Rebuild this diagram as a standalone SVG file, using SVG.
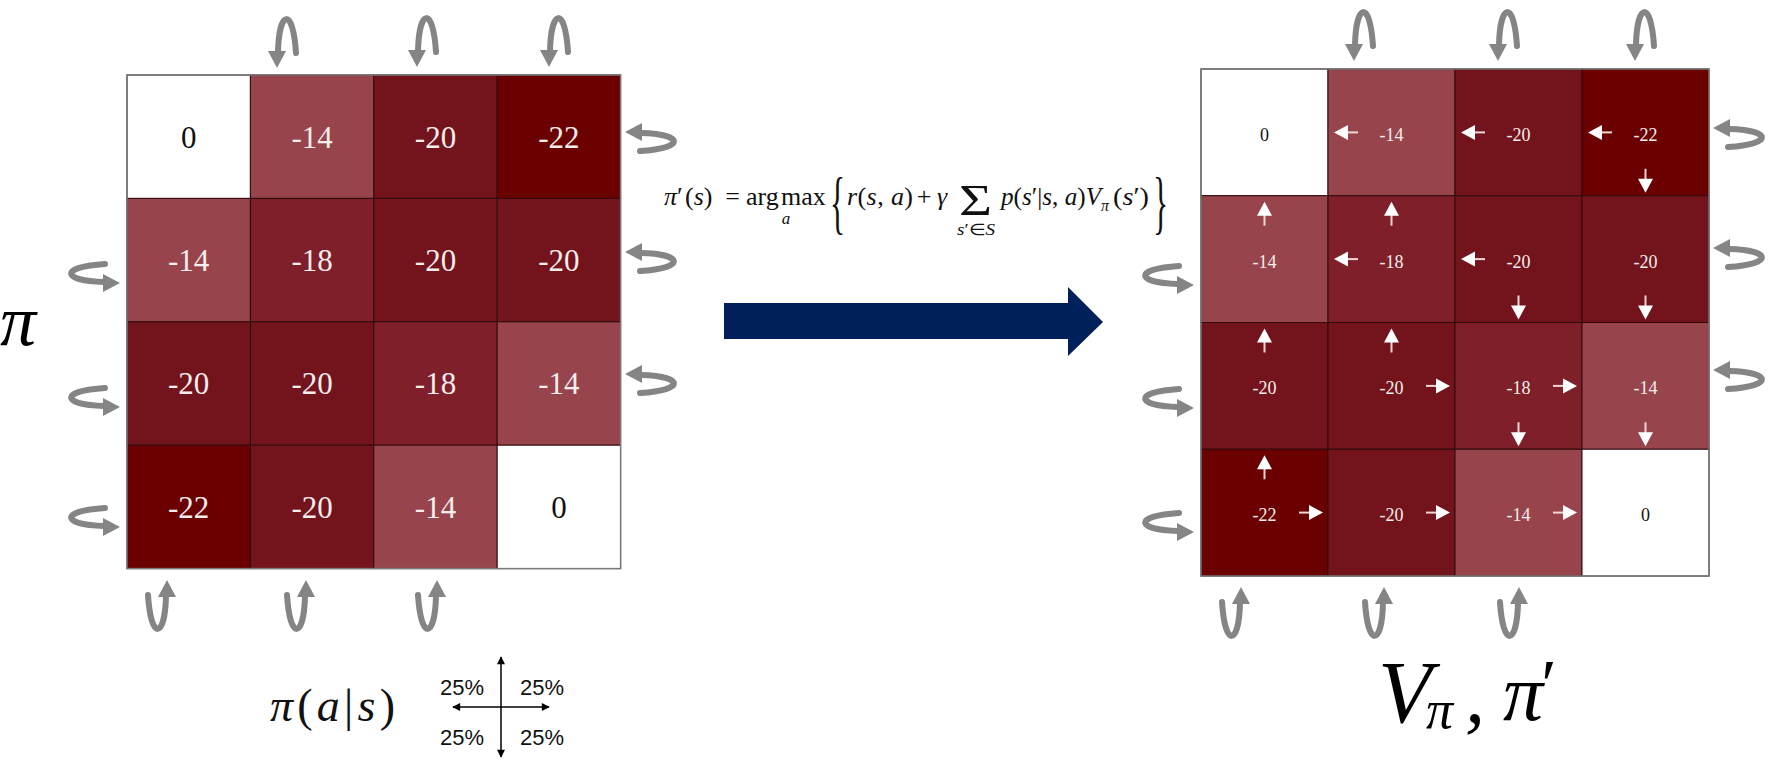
<svg xmlns="http://www.w3.org/2000/svg" xmlns:xlink="http://www.w3.org/1999/xlink" width="1782" height="772" viewBox="0 0 1782 772">
<style>
.cell{stroke:#2e0a0d;stroke-width:1}
.w{fill:#ffffff}.c14{fill:#97444c}.c18{fill:#7e1f29}.c20{fill:#73141c}.c22{fill:#6b0000}
.frame{fill:none;stroke:#7a7a7a;stroke-width:1.5}
.tl{font-family:"Liberation Serif",serif;font-size:31px;text-anchor:middle;fill:#f6eded}
.tr{font-family:"Liberation Serif",serif;font-size:18px;text-anchor:middle;fill:#f6eded}
.dk{fill:#111111}
.m{font-family:"Liberation Serif",serif;fill:#111}
.i{font-style:italic}
.pct{font-family:"Liberation Sans",Arial,sans-serif;font-size:22px;fill:#111}
.lbl{font-family:"Liberation Serif",serif;font-style:italic;fill:#000}
</style>
<defs>
<g id="loop">
<path d="M1,-16 C2,-58 16,-62 19,-15" fill="none" stroke="#858585" stroke-width="6" stroke-linecap="round"/>
<polygon points="0,0 -9,-17 9,-17" fill="#858585"/>
</g>
<g id="pa">
<line x1="0" y1="13" x2="0" y2="24" stroke="#f0d6d6" stroke-width="2"/>
<polygon points="0,0 -7.5,14 7.5,14" fill="#ffffff"/>
</g>
<marker id="blk" viewBox="0 0 10 10" refX="9" refY="5" markerWidth="10" markerHeight="8" markerUnits="userSpaceOnUse" orient="auto-start-reverse">
<path d="M0,0 L10,5 L0,10 z" fill="#000"/>
</marker>
</defs>
<rect width="1782" height="772" fill="#ffffff"/>

<!-- Left grid -->
<g id="left-grid">
<g id="L00"><rect class="cell w" x="127" y="75" width="123.4" height="123.4"/><text class="tl dk" x="188.7" y="147.5">0</text></g>
<g id="L01"><rect class="cell c14" x="250.4" y="75" width="123.4" height="123.4"/><text class="tl" x="312.1" y="147.5">-14</text></g>
<g id="L02"><rect class="cell c20" x="373.8" y="75" width="123.4" height="123.4"/><text class="tl" x="435.5" y="147.5">-20</text></g>
<g id="L03"><rect class="cell c22" x="497.2" y="75" width="123.4" height="123.4"/><text class="tl" x="558.9" y="147.5">-22</text></g>
<g id="L10"><rect class="cell c14" x="127" y="198.4" width="123.4" height="123.4"/><text class="tl" x="188.7" y="270.9">-14</text></g>
<g id="L11"><rect class="cell c18" x="250.4" y="198.4" width="123.4" height="123.4"/><text class="tl" x="312.1" y="270.9">-18</text></g>
<g id="L12"><rect class="cell c20" x="373.8" y="198.4" width="123.4" height="123.4"/><text class="tl" x="435.5" y="270.9">-20</text></g>
<g id="L13"><rect class="cell c20" x="497.2" y="198.4" width="123.4" height="123.4"/><text class="tl" x="558.9" y="270.9">-20</text></g>
<g id="L20"><rect class="cell c20" x="127" y="321.8" width="123.4" height="123.4"/><text class="tl" x="188.7" y="394.3">-20</text></g>
<g id="L21"><rect class="cell c20" x="250.4" y="321.8" width="123.4" height="123.4"/><text class="tl" x="312.1" y="394.3">-20</text></g>
<g id="L22"><rect class="cell c18" x="373.8" y="321.8" width="123.4" height="123.4"/><text class="tl" x="435.5" y="394.3">-18</text></g>
<g id="L23"><rect class="cell c14" x="497.2" y="321.8" width="123.4" height="123.4"/><text class="tl" x="558.9" y="394.3">-14</text></g>
<g id="L30"><rect class="cell c22" x="127" y="445.2" width="123.4" height="123.4"/><text class="tl" x="188.7" y="517.7">-22</text></g>
<g id="L31"><rect class="cell c20" x="250.4" y="445.2" width="123.4" height="123.4"/><text class="tl" x="312.1" y="517.7">-20</text></g>
<g id="L32"><rect class="cell c14" x="373.8" y="445.2" width="123.4" height="123.4"/><text class="tl" x="435.5" y="517.7">-14</text></g>
<g id="L33"><rect class="cell w" x="497.2" y="445.2" width="123.4" height="123.4"/><text class="tl dk" x="558.9" y="517.7">0</text></g>
<rect class="frame" x="127" y="75" width="493.6" height="493.6"/>
</g>

<!-- Right grid -->
<g id="right-grid">
<g id="R00"><rect class="cell w" x="1201" y="69" width="127" height="126.75"/><text class="tr dk" x="1264.5" y="140.9">0</text></g>
<g id="R01"><rect class="cell c14" x="1328" y="69" width="127" height="126.75"/><text class="tr" x="1391.5" y="140.9">-14</text>
<use xlink:href="#pa" transform="translate(1334,132.4) rotate(-90)"/></g>
<g id="R02"><rect class="cell c20" x="1455" y="69" width="127" height="126.75"/><text class="tr" x="1518.5" y="140.9">-20</text>
<use xlink:href="#pa" transform="translate(1461,132.4) rotate(-90)"/></g>
<g id="R03"><rect class="cell c22" x="1582" y="69" width="127" height="126.75"/><text class="tr" x="1645.5" y="140.9">-22</text>
<use xlink:href="#pa" transform="translate(1588,132.4) rotate(-90)"/>
<use xlink:href="#pa" transform="translate(1645.5,192.75) rotate(180)"/></g>
<g id="R10"><rect class="cell c14" x="1201" y="195.75" width="127" height="126.75"/><text class="tr" x="1264.5" y="267.6">-14</text>
<use xlink:href="#pa" transform="translate(1264.5,201.75)"/></g>
<g id="R11"><rect class="cell c18" x="1328" y="195.75" width="127" height="126.75"/><text class="tr" x="1391.5" y="267.6">-18</text>
<use xlink:href="#pa" transform="translate(1391.5,201.75)"/>
<use xlink:href="#pa" transform="translate(1334,259.1) rotate(-90)"/></g>
<g id="R12"><rect class="cell c20" x="1455" y="195.75" width="127" height="126.75"/><text class="tr" x="1518.5" y="267.6">-20</text>
<use xlink:href="#pa" transform="translate(1461,259.1) rotate(-90)"/>
<use xlink:href="#pa" transform="translate(1518.5,319.5) rotate(180)"/></g>
<g id="R13"><rect class="cell c20" x="1582" y="195.75" width="127" height="126.75"/><text class="tr" x="1645.5" y="267.6">-20</text>
<use xlink:href="#pa" transform="translate(1645.5,319.5) rotate(180)"/></g>
<g id="R20"><rect class="cell c20" x="1201" y="322.5" width="127" height="126.75"/><text class="tr" x="1264.5" y="394.4">-20</text>
<use xlink:href="#pa" transform="translate(1264.5,328.5)"/></g>
<g id="R21"><rect class="cell c20" x="1328" y="322.5" width="127" height="126.75"/><text class="tr" x="1391.5" y="394.4">-20</text>
<use xlink:href="#pa" transform="translate(1391.5,328.5)"/>
<use xlink:href="#pa" transform="translate(1450,385.9) rotate(90)"/></g>
<g id="R22"><rect class="cell c18" x="1455" y="322.5" width="127" height="126.75"/><text class="tr" x="1518.5" y="394.4">-18</text>
<use xlink:href="#pa" transform="translate(1577,385.9) rotate(90)"/>
<use xlink:href="#pa" transform="translate(1518.5,446.25) rotate(180)"/></g>
<g id="R23"><rect class="cell c14" x="1582" y="322.5" width="127" height="126.75"/><text class="tr" x="1645.5" y="394.4">-14</text>
<use xlink:href="#pa" transform="translate(1645.5,446.25) rotate(180)"/></g>
<g id="R30"><rect class="cell c22" x="1201" y="449.25" width="127" height="126.75"/><text class="tr" x="1264.5" y="521.1">-22</text>
<use xlink:href="#pa" transform="translate(1264.5,455.25)"/>
<use xlink:href="#pa" transform="translate(1323,512.6) rotate(90)"/></g>
<g id="R31"><rect class="cell c20" x="1328" y="449.25" width="127" height="126.75"/><text class="tr" x="1391.5" y="521.1">-20</text>
<use xlink:href="#pa" transform="translate(1450,512.6) rotate(90)"/></g>
<g id="R32"><rect class="cell c14" x="1455" y="449.25" width="127" height="126.75"/><text class="tr" x="1518.5" y="521.1">-14</text>
<use xlink:href="#pa" transform="translate(1577,512.6) rotate(90)"/></g>
<g id="R33"><rect class="cell w" x="1582" y="449.25" width="127" height="126.75"/><text class="tr dk" x="1645.5" y="521.1">0</text></g>
<rect class="frame" x="1201" y="69" width="508" height="507"/>
</g>

<!-- Connectors: self loops and main arrow -->
<g id="connectors">
<g id="left-loops">
<use xlink:href="#loop" transform="translate(277,68)"/>
<use xlink:href="#loop" transform="translate(417,67)"/>
<use xlink:href="#loop" transform="translate(549,67)"/>
<use xlink:href="#loop" transform="translate(625,132) rotate(90)"/>
<use xlink:href="#loop" transform="translate(625,252) rotate(90)"/>
<use xlink:href="#loop" transform="translate(625,374) rotate(90)"/>
<use xlink:href="#loop" transform="translate(120,283) rotate(-90)"/>
<use xlink:href="#loop" transform="translate(120,407) rotate(-90)"/>
<use xlink:href="#loop" transform="translate(120,527) rotate(-90)"/>
<use xlink:href="#loop" transform="translate(167,580) rotate(180)"/>
<use xlink:href="#loop" transform="translate(306,580) rotate(180)"/>
<use xlink:href="#loop" transform="translate(437,580) rotate(180)"/>
</g>
<g id="right-loops">
<use xlink:href="#loop" transform="translate(1354,61)"/>
<use xlink:href="#loop" transform="translate(1498,61)"/>
<use xlink:href="#loop" transform="translate(1635,61)"/>
<use xlink:href="#loop" transform="translate(1713,128) rotate(90)"/>
<use xlink:href="#loop" transform="translate(1713,248) rotate(90)"/>
<use xlink:href="#loop" transform="translate(1713,370) rotate(90)"/>
<use xlink:href="#loop" transform="translate(1194,285) rotate(-90)"/>
<use xlink:href="#loop" transform="translate(1194,408) rotate(-90)"/>
<use xlink:href="#loop" transform="translate(1194,532) rotate(-90)"/>
<use xlink:href="#loop" transform="translate(1241,587) rotate(180)"/>
<use xlink:href="#loop" transform="translate(1384,587) rotate(180)"/>
<use xlink:href="#loop" transform="translate(1519,587) rotate(180)"/>
</g>
<polygon id="main-arrow" points="724,303 1068,303 1068,287 1103,322 1068,356 1068,339 724,339" fill="#00205b"/>
</g>

<!-- Formula -->
<g id="formula">
<text class="m" y="205" style="font-size:26px"><tspan x="664" class="i">π</tspan><tspan>′</tspan><tspan x="685">(</tspan><tspan class="i">s</tspan><tspan>)</tspan></text>
<text class="m" x="732.5" y="205" text-anchor="middle" style="font-size:26px">=</text>
<text class="m" x="746" y="205" style="font-size:26px">arg</text>
<text class="m" x="781" y="205" style="font-size:26px">max</text>
<text class="m i" x="786" y="224" text-anchor="middle" style="font-size:17px">a</text>
<text class="m" transform="translate(830,226) scale(0.45,1)" style="font-size:70px">{</text>
<text class="m" x="847" y="205" textLength="66" lengthAdjust="spacing" style="font-size:26px"><tspan class="i">r</tspan>(<tspan class="i">s</tspan>, <tspan class="i">a</tspan>)</text>
<text class="m" x="924" y="205" text-anchor="middle" style="font-size:26px">+</text>
<text class="m i" x="937" y="205" style="font-size:26px">γ</text>
<text class="m" x="959" y="215" textLength="33" lengthAdjust="spacingAndGlyphs" style="font-size:44px">Σ</text>
<text class="m" x="957" y="235" textLength="38" lengthAdjust="spacingAndGlyphs" style="font-size:16px"><tspan class="i">s</tspan>′∈<tspan class="i">S</tspan></text>
<text class="m" x="1001" y="205" textLength="100" lengthAdjust="spacingAndGlyphs" style="font-size:25px"><tspan class="i">p</tspan>(<tspan class="i">s</tspan>′|<tspan class="i">s</tspan>, <tspan class="i">a</tspan>)<tspan class="i">V</tspan></text>
<text class="m i" x="1101" y="211" style="font-size:16px">π</text>
<text class="m" x="1113" y="205" textLength="36" lengthAdjust="spacingAndGlyphs" style="font-size:25px">(<tspan class="i">s</tspan>′)</text>
<text class="m" transform="translate(1153,226) scale(0.45,1)" style="font-size:70px">}</text>
</g>

<!-- Labels -->
<g id="label-pi">
<text class="lbl" x="0" y="345" style="font-size:72px">π</text>
</g>
<g id="label-policy">
<text class="m" x="270" y="721" textLength="125" lengthAdjust="spacing" style="font-size:46px"><tspan class="i">π</tspan>(<tspan class="i">a</tspan>|<tspan class="i">s</tspan>)</text>
</g>
<g id="policy-cross">
<line x1="501" y1="757" x2="501" y2="657" stroke="#000" stroke-width="1.5" marker-end="url(#blk)" marker-start="url(#blk)"/>
<line x1="453" y1="707" x2="549" y2="707" stroke="#000" stroke-width="1.5" marker-end="url(#blk)" marker-start="url(#blk)"/>
<text class="pct" x="440" y="695">25%</text>
<text class="pct" x="520" y="695">25%</text>
<text class="pct" x="440" y="745">25%</text>
<text class="pct" x="520" y="745">25%</text>
</g>
<g id="label-value">
<text class="lbl" x="1378" y="722" style="font-size:88px">V</text>
<text class="lbl" x="1426" y="728" style="font-size:54px">π</text>
<text class="lbl" x="1465" y="722" style="font-size:80px">,</text>
<text class="lbl" x="1503" y="720" style="font-size:80px">π</text>
<text class="lbl" x="1537" y="708" style="font-size:70px">′</text>
</g>
</svg>
